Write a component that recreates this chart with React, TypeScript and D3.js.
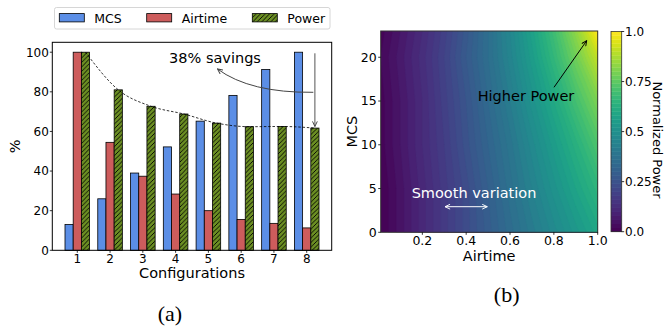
import React from "react";
import * as d3 from "d3";

// (a) bar chart data
const configs = [1, 2, 3, 4, 5, 6, 7, 8];
const mcsPct = [13, 26, 39, 52.2, 65.2, 78.2, 91.3, 100];
const airtimePct = [100, 54.5, 37.4, 28.4, 20, 15.6, 13.6, 11.3];
const powerPct = [100, 81, 72.7, 68.8, 64.2, 62.4, 62.5, 61.7];
const barTicks = [0, 20, 40, 60, 80, 100];
const seriesNames = ["MCS", "Airtime", "Power"];

// (b) normalized power grid (rows = MCS, cols = airtime)
const airtimeGrid = [0.01, 0.1, 0.2, 0.3, 0.4, 0.5, 0.6, 0.7, 0.8, 0.9, 1.0];
const mcsGrid = [0, 5, 10, 15, 20, 23];
const powerGrid = [
  [0.0, 0.05, 0.11, 0.17, 0.23, 0.29, 0.35, 0.41, 0.47, 0.53, 0.59],
  [0.0, 0.05, 0.11, 0.17, 0.23, 0.3, 0.37, 0.44, 0.51, 0.58, 0.65],
  [0.01, 0.06, 0.12, 0.18, 0.25, 0.32, 0.39, 0.47, 0.55, 0.63, 0.72],
  [0.01, 0.06, 0.12, 0.19, 0.26, 0.34, 0.42, 0.51, 0.6, 0.7, 0.8],
  [0.02, 0.07, 0.13, 0.2, 0.28, 0.36, 0.45, 0.55, 0.66, 0.78, 0.91],
  [0.01, 0.06, 0.12, 0.19, 0.27, 0.36, 0.46, 0.57, 0.69, 0.83, 1.0],
];
const heatXTicks = [0.2, 0.4, 0.6, 0.8, 1.0];
const heatYTicks = [0, 5, 10, 15, 20];
const cbarTicks = [0, 0.25, 0.5, 0.75, 1.0];
const cbarLabels = ["0.0", "0.25", "0.5", "0.75", "1.0"];

const FONT = "DejaVu Sans, sans-serif";
const colors = ["#5b8ee6", "#cd5c5c", "#6b8e23"];

const BarPanel = () => {
  const L = 52.3, R = 331.7, T = 42.3, B = 250.3;
  const x = d3.scaleLinear().domain([0.2375, 8.7625]).range([L, R]);
  const y = d3.scaleLinear().domain([0, 105]).range([B, T]);
  const bw = 0.25;
  const series = [mcsPct, airtimePct, powerPct];
  const line = d3
    .line<number>()
    .x((d, i) => x(configs[i] + bw))
    .y(d => y(d))
    .curve(d3.curveMonotoneX);

  return (
    <g fontFamily={FONT}>
      {series.map((vals, s) =>
        vals.map((v, i) => {
          const x0 = x(configs[i] + (s - 1.5) * bw);
          const x1 = x(configs[i] + (s - 0.5) * bw);
          return (
            <rect
              key={s + "-" + i}
              x={x0}
              y={y(v)}
              width={x1 - x0}
              height={B - y(v)}
              fill={s === 2 ? "url(#hatch)" : colors[s]}
              stroke="#000"
              strokeWidth={0.8}
            />
          );
        })
      )}
      <path d={line(powerPct) || ""} fill="none" stroke="#000" strokeWidth={0.8} strokeDasharray="2.5,1.8" />
      <rect x={L} y={T} width={R - L} height={B - T} fill="none" stroke="#000" strokeWidth={1} />
      {barTicks.map(t => (
        <g key={t}>
          <line x1={L - 2.5} x2={L} y1={y(t)} y2={y(t)} stroke="#000" strokeWidth={0.8} />
          <text x={L - 3.5} y={y(t) + 4.3} fontSize={12} textAnchor="end">{t}</text>
        </g>
      ))}
      {configs.map(c => (
        <g key={c}>
          <line x1={x(c)} x2={x(c)} y1={B} y2={B + 2.5} stroke="#000" strokeWidth={0.8} />
          <text x={x(c)} y={263.3} fontSize={12} textAnchor="middle">{c}</text>
        </g>
      ))}
      <text x={(L + R) / 2} y={278} fontSize={14.5} textAnchor="middle">Configurations</text>
      <text transform={`translate(20,${(T + B) / 2}) rotate(-90)`} fontSize={14.5} textAnchor="middle">%</text>

      {/* annotation */}
      <text x={215} y={62.5} fontSize={14.5} textAnchor="middle">38% savings</text>
      <path d="M313.3,92.3 Q250,93 217.5,69" fill="none" stroke="#444" strokeWidth={1} markerEnd="url(#arrGray)" />
      <path d={`M${x(8 + bw)},53.3 L${x(8 + bw)},126.5`} fill="none" stroke="#555" strokeWidth={1} markerEnd="url(#arrGray)" />

      {/* legend */}
      <rect x={54.5} y={7.5} width={275.5} height={21.5} rx={2} fill="#fff" stroke="#ccc" strokeWidth={0.8} />
      {seriesNames.map((n, i) => {
        const px = [59.3, 146.7, 252.3][i];
        return (
          <g key={n}>
            <rect x={px} y={13.6} width={25} height={8.3} fill={i === 2 ? "url(#hatch)" : colors[i]} stroke="#000" strokeWidth={0.8} />
            <text x={px + 35} y={22.5} fontSize={12.5}>{n}</text>
          </g>
        );
      })}
      <text x={170} y={321} fontSize={22} fontFamily="Liberation Serif, serif" textAnchor="middle">(a)</text>
    </g>
  );
};

const HeatPanel = () => {
  const L = 380.7, R = 597.7, T = 31, B = 232.3;
  const hx = d3.scaleLinear().domain([0.01, 1.0]).range([L, R]);
  const hy = d3.scaleLinear().domain([0, 23]).range([B, T]);
  const nx = airtimeGrid.length;
  const ny = mcsGrid.length;
  const ix = d3.scaleLinear().domain(d3.range(nx)).range(airtimeGrid);
  const iy = d3.scaleLinear().domain(d3.range(ny)).range(mcsGrid);
  const levels = d3.range(0, 1.0, 0.02);
  const step = 0.02;
  const contours = d3.contours().size([nx, ny]).thresholds(levels)(powerGrid.flat());
  const toPx = (p: number[]) => {
    const cx = Math.max(0, Math.min(nx - 1, p[0] - 0.5));
    const cy = Math.max(0, Math.min(ny - 1, p[1] - 0.5));
    return [hx(ix(cx)), hy(iy(cy))];
  };
  const pathOf = (c: any) =>
    c.coordinates
      .map((poly: number[][][]) =>
        poly
          .map(ring => "M" + ring.map(pt => toPx(pt).map(v => v.toFixed(2)).join(",")).join("L") + "Z")
          .join("")
      )
      .join("");

  const CL = 611, CR = 621.7, CT = 31.5, CB = 231.7;
  const cy = d3.scaleLinear().domain([0, 1]).range([CB, CT]);

  return (
    <g fontFamily={FONT}>
      <clipPath id="heatClip">
        <rect x={L} y={T} width={R - L} height={B - T} />
      </clipPath>
      <g clipPath="url(#heatClip)">
        {contours.map((c, i) => (
          <path
            key={i}
            d={pathOf(c)}
            fill={d3.interpolateViridis(c.value + step / 2)}
            stroke={d3.interpolateViridis(c.value + step / 2)}
            strokeWidth={0.3}
          />
        ))}
      </g>
      <rect x={L} y={T} width={R - L} height={B - T} fill="none" stroke="#333" strokeWidth={1} />
      {heatXTicks.map(t => (
        <g key={t}>
          <line x1={hx(t)} x2={hx(t)} y1={B} y2={B + 2.5} stroke="#000" strokeWidth={0.8} />
          <text x={hx(t)} y={245} fontSize={12.5} textAnchor="middle">{t.toFixed(1)}</text>
        </g>
      ))}
      {heatYTicks.map(t => (
        <g key={t}>
          <line x1={L - 2.5} x2={L} y1={hy(t)} y2={hy(t)} stroke="#000" strokeWidth={0.8} />
          <text x={L - 4} y={hy(t) + 4.4} fontSize={12.5} textAnchor="end">{t}</text>
        </g>
      ))}
      <text x={(L + R) / 2} y={261} fontSize={14.5} textAnchor="middle">Airtime</text>
      <text transform={`translate(356.7,${(T + B) / 2}) rotate(-90)`} fontSize={14.5} textAnchor="middle">MCS</text>

      <text x={526} y={101} fontSize={14.5} textAnchor="middle">Higher Power</text>
      <path d="M554,87.3 L586.7,40.7" stroke="#000" strokeWidth={1} fill="none" markerEnd="url(#arrBlack)" />
      <text x={474} y={197.5} fontSize={14.5} textAnchor="middle" fill="#fff">Smooth variation</text>
      <path d="M445,206.7 L487.3,206.7" stroke="#fff" strokeWidth={1} fill="none" markerStart="url(#arrWhite)" markerEnd="url(#arrWhite)" />

      {/* colorbar */}
      {levels.map(t => (
        <rect key={t} x={CL} y={cy(t + step)} width={CR - CL} height={cy(t) - cy(t + step) + 0.3} fill={d3.interpolateViridis(t + step / 2)} />
      ))}
      <rect x={CL} y={CT} width={CR - CL} height={CB - CT} fill="none" stroke="#333" strokeWidth={0.8} />
      {cbarTicks.map((t, i) => (
        <g key={t}>
          <line x1={CR} x2={CR + 2.5} y1={cy(t)} y2={cy(t)} stroke="#000" strokeWidth={0.8} />
          <text x={CR + 3.3} y={cy(t) + 4.3} fontSize={12}>{cbarLabels[i]}</text>
        </g>
      ))}
      <text transform={`translate(652.5,140) rotate(90)`} fontSize={13} textAnchor="middle">Normalized Power</text>
      <text x={506.7} y={302} fontSize={22} fontFamily="Liberation Serif, serif" textAnchor="middle">(b)</text>
    </g>
  );
};

const Marker = ({ id, color }: { id: string; color: string }) => (
  <marker id={id} viewBox="0 0 10 10" refX={9.5} refY={5} markerWidth={6} markerHeight={6} markerUnits="userSpaceOnUse" orient="auto-start-reverse">
    <path d="M1,1 L9.5,5 L1,9" fill="none" stroke={color} strokeWidth={1.6} />
  </marker>
);

export default function App() {
  return (
    <svg width={665} height={326} style={{ position: "absolute", left: 0, top: 0, background: "#fff" }}>
      <defs>
        <pattern id="hatch" patternUnits="userSpaceOnUse" width={4.5} height={4.5}>
          <rect width={4.5} height={4.5} fill="#6b8e23" />
          <path d="M-1,1 L1,-1 M0,4.5 L4.5,0 M3.5,5.5 L5.5,3.5" stroke="#000" strokeWidth={0.9} />
        </pattern>
        <Marker id="arrGray" color="#444" />
        <Marker id="arrBlack" color="#000" />
        <Marker id="arrWhite" color="#fff" />
      </defs>
      <BarPanel />
      <HeatPanel />
    </svg>
  );
}
